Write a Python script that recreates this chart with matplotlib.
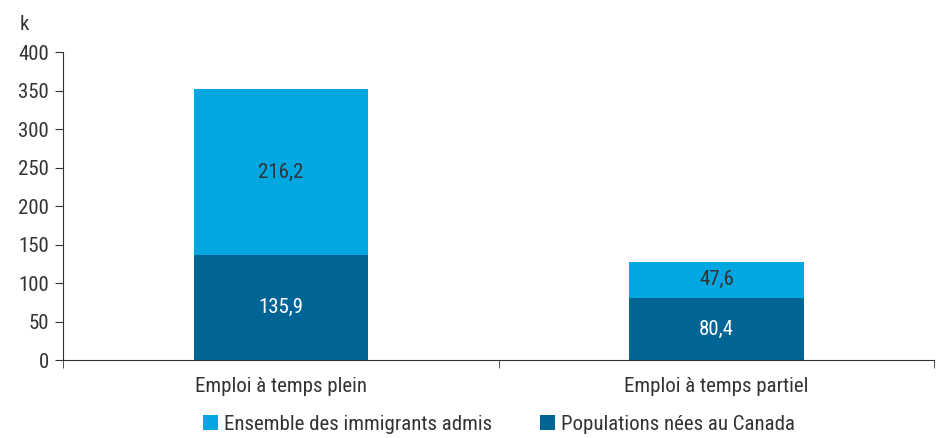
import matplotlib.pyplot as plt
import numpy as np

plt.rcParams['font.family'] = ['Roboto Condensed', 'DejaVu Sans']
plt.rcParams['font.stretch'] = 'condensed'

categories = ['Emploi à temps plein', 'Emploi à temps partiel']
canada = [135.9, 80.4]
immigrants = [216.2, 47.6]
series_names = ['Ensemble des immigrants admis', 'Populations nées au Canada']

dark = '#006595'
light = '#00a7e0'
text_col = '#333333'

fig = plt.figure(figsize=(9.38, 4.38), dpi=100)
ax = fig.add_axes([0.0672, 0.178, 0.929, 0.703])

x = np.arange(len(categories))
b1 = ax.bar(x, canada, width=0.4, color=dark)
b2 = ax.bar(x, immigrants, width=0.4, bottom=canada, color=light)

# value labels inside each segment
for i in range(len(categories)):
    ax.text(x[i], canada[i] / 2, f'{canada[i]:.1f}'.replace('.', ','),
            ha='center', va='center', color='white', fontsize=15)
    ax.text(x[i], canada[i] + immigrants[i] / 2, f'{immigrants[i]:.1f}'.replace('.', ','),
            ha='center', va='center', color=text_col, fontsize=15)

ax.set_xlim(-0.5, 1.5)
ax.set_ylim(0, 400)
ax.set_yticks(range(0, 401, 50))
ax.set_xticks(x)
ax.set_xticklabels(categories)
ax.set_xticks([-0.5, 0.5, 1.5], minor=True)
ax.tick_params(axis='x', which='major', length=0, pad=12, labelsize=15, colors=text_col)
ax.tick_params(axis='x', which='minor', length=6, color=text_col)
ax.tick_params(axis='y', length=6, labelsize=15, colors=text_col, pad=4)

for s in ['top', 'right']:
    ax.spines[s].set_visible(False)
for s in ['left', 'bottom']:
    ax.spines[s].set_color(text_col)
ax.spines['bottom'].set_bounds(-0.5, 1.5)

ax.text(-0.05, 1.06, 'k', transform=ax.transAxes, fontsize=15, color=text_col,
        ha='left', va='bottom')

fig.legend([b2, b1], series_names, loc='lower center', bbox_to_anchor=(0.532, -0.033),
           ncol=2, frameon=False, fontsize=15, handlelength=0.7, handleheight=0.7,
           handletextpad=0.3, columnspacing=2.3, labelcolor=text_col)

fig.savefig('out.png', dpi=100)
